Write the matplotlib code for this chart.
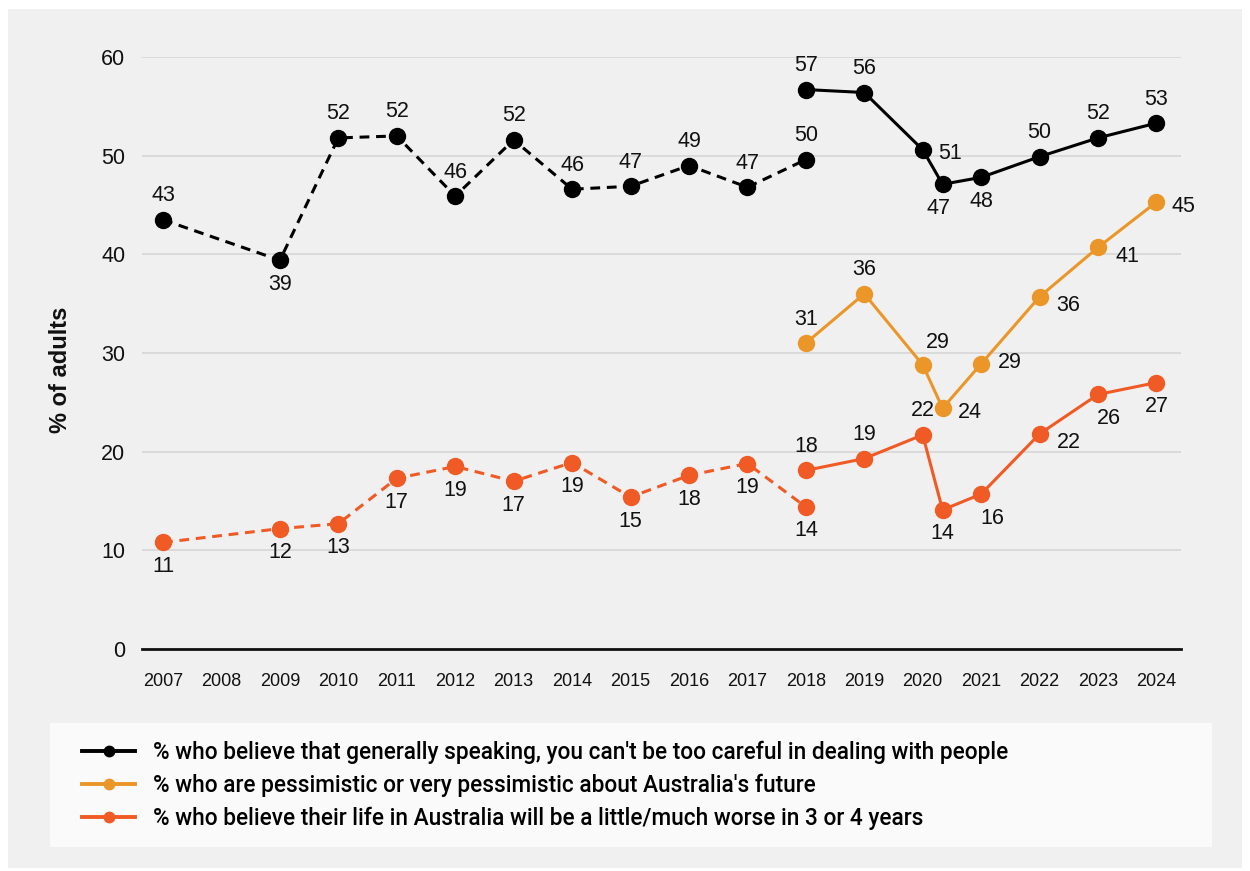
import matplotlib
matplotlib.use('Agg')
import matplotlib.pyplot as plt
from matplotlib.patches import Rectangle
from matplotlib.lines import Line2D

years = ["2007", "2008", "2009", "2010", "2011", "2012", "2013", "2014", "2015",
         "2016", "2017", "2018", "2019", "2020", "2021", "2022", "2023", "2024"]

# x positions are category indices; the second 2020 survey sits between 2020 and 2021
x_dashed = [0, 2, 3, 4, 5, 6, 7, 8, 9, 10, 11]
x_solid = [11, 12, 13, 13.34, 14, 15, 16, 17]

careful_dashed = [43.5, 39.4, 51.8, 52.0, 45.9, 51.6, 46.6, 46.9, 49.0, 46.8, 49.6]
careful_solid = [56.7, 56.4, 50.6, 47.1, 47.8, 49.9, 51.8, 53.3]
careful_dashed_lbl = [43, 39, 52, 52, 46, 52, 46, 47, 49, 47, 50]
careful_solid_lbl = [57, 56, 51, 47, 48, 50, 52, 53]

pessim_solid = [31.0, 36.0, 28.8, 24.4, 28.9, 35.7, 40.7, 45.3]
pessim_solid_lbl = [31, 36, 29, 24, 29, 36, 41, 45]

worse_dashed = [10.8, 12.2, 12.7, 17.3, 18.5, 17.0, 18.9, 15.4, 17.6, 18.8, 14.4]
worse_solid = [18.1, 19.3, 21.7, 14.1, 15.7, 21.8, 25.8, 27.0]
worse_dashed_lbl = [11, 12, 13, 17, 19, 17, 19, 15, 18, 19, 14]
worse_solid_lbl = [18, 19, 22, 14, 16, 22, 26, 27]

legend_labels = [
    "% who believe that generally speaking, you can't be too careful in dealing with people",
    "% who are pessimistic or very pessimistic about Australia's future",
    "% who believe their life in Australia will be a little/much worse in 3 or 4 years",
]

BLACK = '#000000'
ORANGE = '#EB9628'
RED = '#F05A24'

# label placement (pixel offsets)
OFF = {'a': (0, 24), 'b': (0, -24), 'bl': (-4, -24), 'r': (27, -4), 'rr': (29, 1),
       'ar': (15, 22), 'br': (11, -24), 'rd': (29, -9)}

plt.rcParams['font.family'] = ['Liberation Sans', 'DejaVu Sans']

fig = plt.figure(figsize=(12.5, 8.71), dpi=100)
fig.patch.set_facecolor('white')
fig.patches.append(Rectangle((8 / 1250, 1 - 868 / 871), 1234 / 1250, 859 / 871,
                             transform=fig.transFigure, facecolor='#f0f0f0',
                             edgecolor='none', zorder=-2))
fig.patches.append(Rectangle((50 / 1250, 1 - 847 / 871), 1162 / 1250, 124 / 871,
                             transform=fig.transFigure, facecolor='#fafafa',
                             edgecolor='none', zorder=-1))

ax = fig.add_axes([142 / 1250, 1 - 649 / 871, 1039 / 1250, 592 / 871])
ax.set_facecolor('none')


def series(xs, ys, lbls, codes, color, dashed):
    ax.plot(xs, ys, color=color, lw=2.2, ls=(0, (3.2, 2.2)) if dashed else '-',
            marker='o', ms=11.5, mec=color, mfc=color, zorder=3, clip_on=False)
    for x, y, l, c in zip(xs, ys, lbls, codes):
        ax.annotate(str(l), (x, y), xytext=OFF[c], textcoords='offset pixels',
                    ha='center', va='center', fontsize=15.5, color='#111111',
                    annotation_clip=False)


series(x_dashed, careful_dashed, careful_dashed_lbl,
       ['a', 'b', 'a', 'a', 'a', 'a', 'a', 'a', 'a', 'a', 'a'], BLACK, True)
series(x_solid, careful_solid, careful_solid_lbl,
       ['a', 'a', 'r', 'bl', 'b', 'a', 'a', 'a'], BLACK, False)
series(x_solid, pessim_solid, pessim_solid_lbl,
       ['a', 'a', 'ar', 'r', 'rr', 'rd', 'rd', 'r'], ORANGE, False)
series(x_dashed, worse_dashed, worse_dashed_lbl,
       ['b'] * 11, RED, True)
series(x_solid, worse_solid, worse_solid_lbl,
       ['a', 'a', 'a', 'b', 'br', 'rd', 'br', 'b'], RED, False)

ax.set_xlim(-0.36, 17.42)
ax.set_ylim(0, 60)
ax.set_yticks(range(0, 61, 10))
ax.set_xticks(range(len(years)))
ax.set_xticklabels(years)
ax.tick_params(axis='both', length=0, colors='#111111')
ax.tick_params(axis='x', pad=17, labelsize=13)
ax.tick_params(axis='y', pad=12, labelsize=15.5)
ax.grid(axis='y', color='#d6d6d6', lw=1.2, zorder=0)
ax.set_axisbelow(True)
for s in ['left', 'right', 'top']:
    ax.spines[s].set_visible(False)
ax.spines['bottom'].set_color('#111111')
ax.spines['bottom'].set_linewidth(2)
ax.set_ylabel("% of adults", fontsize=17, fontweight='bold', color='#111111')
ax.yaxis.set_label_coords(-0.067, 0.471)

handles = [Line2D([], [], color=c, lw=2.8, marker='o', ms=7.5) for c in (BLACK, ORANGE, RED)]
fig.legend(handles, legend_labels, loc='upper left',
           bbox_to_anchor=(62 / 1250, 1 - 720 / 871), frameon=False,
           handlelength=2.34, handletextpad=0.8, labelspacing=0.43,
           prop={'family': ['Roboto', 'Liberation Sans'], 'weight': 'medium', 'size': 16.3})

fig.savefig('out.png', dpi=100, facecolor='white')
